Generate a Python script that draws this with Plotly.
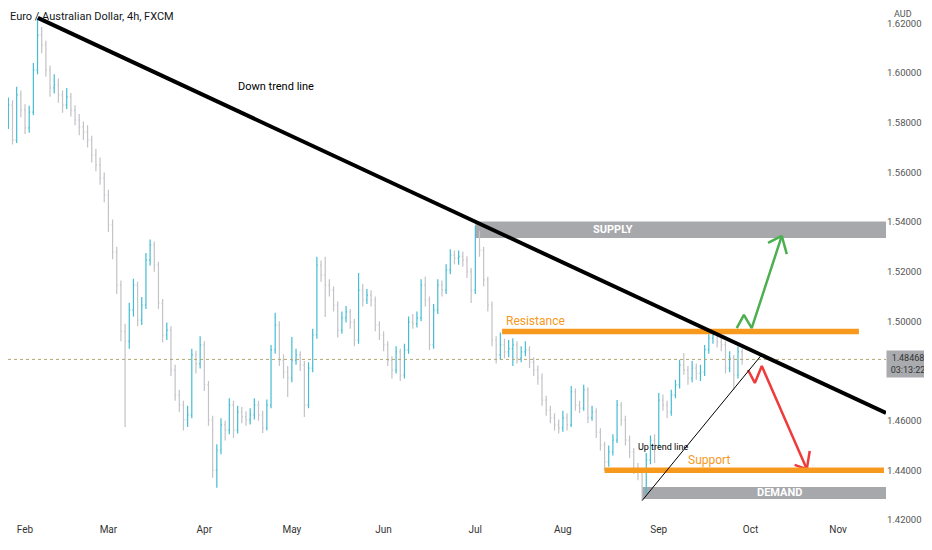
import pandas as pd
import plotly.graph_objects as go

# daily bars (EUR/AUD, FXCM)
start_day = "2022-01-24"

opens = [
    1.5800, 1.5831, 1.5791, 1.5871, 1.5730, 1.5912, 1.5851, 1.5779, 1.5843, 1.6012,
    1.6153, 1.6113, 1.6012, 1.5940, 1.5952, 1.5912, 1.5871, 1.5904, 1.5851, 1.5811,
    1.5783, 1.5763, 1.5730, 1.5670, 1.5630, 1.5577, 1.5509, 1.5388, 1.5279, 1.5146,
    1.4960, 1.4920, 1.5046, 1.5146, 1.5005, 1.5066, 1.5247, 1.5308, 1.5227, 1.5074,
    1.4945, 1.4965, 1.4804, 1.4703, 1.4663, 1.4603, 1.4623, 1.4865, 1.4830, 1.4905,
    1.4744, 1.4603, 1.4401, 1.4482, 1.4583, 1.4562, 1.4663, 1.4562, 1.4635, 1.4615,
    1.4603, 1.4623, 1.4663, 1.4623, 1.4571, 1.4663, 1.4885, 1.4985, 1.4844, 1.4796,
    1.4772, 1.4844, 1.4865, 1.4824, 1.4663, 1.4812, 1.4945, 1.5227, 1.5187, 1.5146,
    1.5126, 1.5066, 1.4965, 1.5014, 1.5038, 1.4997, 1.4925, 1.5126, 1.5086, 1.5106,
    1.5086, 1.4985, 1.4945, 1.4905, 1.4844, 1.4804, 1.4877, 1.4784, 1.4885, 1.4997,
    1.4990, 1.5014, 1.5146, 1.5086, 1.4905, 1.5046, 1.5146, 1.5126, 1.5207, 1.5267,
    1.5255, 1.5262, 1.5247, 1.5199, 1.5126, 1.5348, 1.5287, 1.5167, 1.5066, 1.4925,
    1.4865, 1.4905, 1.4877, 1.4890, 1.4905, 1.4852, 1.4877, 1.4885, 1.4836, 1.4804,
    1.4772, 1.4683, 1.4643, 1.4611, 1.4583, 1.4571, 1.4611, 1.4583, 1.4716, 1.4663,
    1.4651, 1.4724, 1.4611, 1.4635, 1.4554, 1.4502, 1.4434, 1.4474, 1.4522, 1.4663,
    1.4603, 1.4522, 1.4474, 1.4409, 1.4393, 1.4321, 1.4442, 1.4522, 1.4502, 1.4683,
    1.4663, 1.4635, 1.4703, 1.4744, 1.4824, 1.4804, 1.4772, 1.4812, 1.4790, 1.4796,
    1.4885, 1.4933, 1.4945, 1.4917, 1.4905, 1.4812, 1.4852, 1.4784, 1.4877,
]
highs = [
    1.5865, 1.5858, 1.5902, 1.5890, 1.5945, 1.5930, 1.5874, 1.5868, 1.6040, 1.6222,
    1.6185, 1.6130, 1.6030, 1.5995, 1.5978, 1.5930, 1.5940, 1.5920, 1.5870, 1.5835,
    1.5805, 1.5790, 1.5748, 1.5695, 1.5660, 1.5600, 1.5530, 1.5410, 1.5300, 1.5165,
    1.4990, 1.5075, 1.5172, 1.5160, 1.5098, 1.5275, 1.5330, 1.5322, 1.5240, 1.5090,
    1.4995, 1.4980, 1.4825, 1.4725, 1.4680, 1.4660, 1.4890, 1.4882, 1.4940, 1.4920,
    1.4760, 1.4620, 1.4505, 1.4610, 1.4600, 1.4690, 1.4680, 1.4660, 1.4655, 1.4638,
    1.4650, 1.4690, 1.4680, 1.4640, 1.4685, 1.4905, 1.5035, 1.5000, 1.4868, 1.4820,
    1.4937, 1.4890, 1.4880, 1.4840, 1.4835, 1.4970, 1.5260, 1.5245, 1.5260, 1.5170,
    1.5140, 1.5080, 1.5040, 1.5062, 1.5050, 1.5010, 1.5195, 1.5150, 1.5130, 1.5125,
    1.5100, 1.5000, 1.4960, 1.4920, 1.4860, 1.4900, 1.4890, 1.4910, 1.5020, 1.5030,
    1.5040, 1.5170, 1.5180, 1.5100, 1.5070, 1.5170, 1.5165, 1.5230, 1.5290, 1.5285,
    1.5285, 1.5280, 1.5262, 1.5215, 1.5385, 1.5365, 1.5300, 1.5180, 1.5080, 1.4940,
    1.4955, 1.4930, 1.4925, 1.4932, 1.4920, 1.4900, 1.4920, 1.4900, 1.4855, 1.4822,
    1.4790, 1.4700, 1.4660, 1.4630, 1.4605, 1.4640, 1.4630, 1.4740, 1.4730, 1.4680,
    1.4745, 1.4735, 1.4660, 1.4650, 1.4570, 1.4515, 1.4500, 1.4545, 1.4683, 1.4675,
    1.4620, 1.4540, 1.4490, 1.4430, 1.4410, 1.4470, 1.4540, 1.4545, 1.4712, 1.4705,
    1.4680, 1.4725, 1.4765, 1.4845, 1.4873, 1.4820, 1.4840, 1.4830, 1.4825, 1.4905,
    1.4955, 1.4968, 1.4960, 1.4940, 1.4920, 1.4880, 1.4865, 1.4900, 1.4890,
]
lows = [
    1.5772, 1.5762, 1.5775, 1.5712, 1.5718, 1.5822, 1.5755, 1.5760, 1.5830, 1.5995,
    1.6080, 1.5985, 1.5905, 1.5918, 1.5880, 1.5840, 1.5855, 1.5825, 1.5790, 1.5750,
    1.5730, 1.5700, 1.5640, 1.5605, 1.5550, 1.5480, 1.5360, 1.5250, 1.5110, 1.4920,
    1.4575, 1.4890, 1.5020, 1.4980, 1.4985, 1.5050, 1.5225, 1.5200, 1.5050, 1.4915,
    1.4925, 1.4780, 1.4680, 1.4635, 1.4560, 1.4575, 1.4610, 1.4790, 1.4810, 1.4720,
    1.4580, 1.4370, 1.4330, 1.4465, 1.4520, 1.4545, 1.4530, 1.4548, 1.4590, 1.4580,
    1.4585, 1.4605, 1.4600, 1.4550, 1.4560, 1.4650, 1.4870, 1.4820, 1.4770, 1.4695,
    1.4755, 1.4825, 1.4800, 1.4615, 1.4650, 1.4795, 1.4930, 1.5160, 1.5018, 1.5100,
    1.5040, 1.4935, 1.4950, 1.4995, 1.4970, 1.4900, 1.4910, 1.5060, 1.5070, 1.5060,
    1.4960, 1.4925, 1.4880, 1.4820, 1.4770, 1.4790, 1.4760, 1.4770, 1.4870, 1.4970,
    1.4975, 1.5000, 1.5060, 1.4885, 1.4890, 1.5030, 1.5100, 1.5110, 1.5190, 1.5230,
    1.5228, 1.5220, 1.5175, 1.5074, 1.5110, 1.5260, 1.5140, 1.5040, 1.4900, 1.4830,
    1.4845, 1.4850, 1.4855, 1.4820, 1.4830, 1.4835, 1.4860, 1.4812, 1.4780, 1.4745,
    1.4660, 1.4620, 1.4590, 1.4560, 1.4548, 1.4555, 1.4560, 1.4575, 1.4640, 1.4630,
    1.4640, 1.4590, 1.4600, 1.4530, 1.4480, 1.4398, 1.4415, 1.4460, 1.4510, 1.4580,
    1.4500, 1.4450, 1.4385, 1.4360, 1.4280, 1.4305, 1.4425, 1.4430, 1.4490, 1.4640,
    1.4610, 1.4620, 1.4690, 1.4730, 1.4785, 1.4745, 1.4755, 1.4765, 1.4760, 1.4780,
    1.4870, 1.4910, 1.4895, 1.4880, 1.4790, 1.4795, 1.4724, 1.4770, 1.4825,
]
closes = [
    1.5831, 1.5791, 1.5871, 1.5730, 1.5912, 1.5851, 1.5779, 1.5843, 1.6012, 1.6153,
    1.6113, 1.6012, 1.5940, 1.5952, 1.5912, 1.5871, 1.5904, 1.5851, 1.5811, 1.5783,
    1.5763, 1.5730, 1.5670, 1.5630, 1.5577, 1.5509, 1.5388, 1.5279, 1.5146, 1.4960,
    1.4920, 1.5046, 1.5146, 1.5005, 1.5066, 1.5247, 1.5308, 1.5227, 1.5074, 1.4945,
    1.4965, 1.4804, 1.4703, 1.4663, 1.4603, 1.4623, 1.4865, 1.4830, 1.4905, 1.4744,
    1.4603, 1.4401, 1.4482, 1.4583, 1.4562, 1.4663, 1.4562, 1.4635, 1.4615, 1.4603,
    1.4623, 1.4663, 1.4623, 1.4571, 1.4663, 1.4885, 1.4985, 1.4844, 1.4796, 1.4772,
    1.4844, 1.4865, 1.4824, 1.4663, 1.4812, 1.4945, 1.5227, 1.5187, 1.5146, 1.5126,
    1.5066, 1.4965, 1.5014, 1.5038, 1.4997, 1.4925, 1.5126, 1.5086, 1.5106, 1.5086,
    1.4985, 1.4945, 1.4905, 1.4844, 1.4804, 1.4877, 1.4784, 1.4885, 1.4997, 1.4990,
    1.5014, 1.5146, 1.5086, 1.4905, 1.5046, 1.5146, 1.5126, 1.5207, 1.5267, 1.5255,
    1.5262, 1.5247, 1.5199, 1.5126, 1.5348, 1.5287, 1.5167, 1.5066, 1.4925, 1.4865,
    1.4905, 1.4877, 1.4890, 1.4905, 1.4852, 1.4877, 1.4885, 1.4836, 1.4804, 1.4772,
    1.4683, 1.4643, 1.4611, 1.4583, 1.4571, 1.4611, 1.4583, 1.4716, 1.4663, 1.4651,
    1.4724, 1.4611, 1.4635, 1.4554, 1.4502, 1.4434, 1.4474, 1.4522, 1.4663, 1.4603,
    1.4522, 1.4474, 1.4409, 1.4393, 1.4321, 1.4442, 1.4522, 1.4502, 1.4683, 1.4663,
    1.4635, 1.4703, 1.4744, 1.4824, 1.4804, 1.4772, 1.4812, 1.4790, 1.4796, 1.4885,
    1.4933, 1.4945, 1.4917, 1.4905, 1.4812, 1.4852, 1.4784, 1.4877, 1.4847,
]

last_price = 1.48468

month_ticks = ["2022-02-01", "2022-03-01", "2022-04-01", "2022-05-02", "2022-06-01",
               "2022-07-01", "2022-08-01", "2022-09-01", "2022-10-03", "2022-11-01"]
month_labels = ["Feb", "Mar", "Apr", "May", "Jun", "Jul", "Aug", "Sep", "Oct", "Nov"]
# 1.48 is hidden behind the last-price box on the original
price_ticks = [1.42, 1.44, 1.46, 1.50, 1.52, 1.54, 1.56, 1.58, 1.60, 1.62]
price_labels = ["%.5f" % p for p in price_ticks]

# drawn levels / zones
supply_zone = (1.5336, 1.5402)
demand_zone = (1.4285, 1.4333)
resistance_band = (1.4948, 1.4970)
support_band = (1.4389, 1.4411)

# hand drawn arrows (time, price)
green_x = ["2022-09-27 17:00", "2022-09-29 10:00", "2022-10-03 07:00", "2022-10-12 12:00",
           "2022-10-07 05:00", None, "2022-10-12 12:00", "2022-10-13 17:00"]
green_y = [1.4973, 1.5026, 1.4973, 1.5344, 1.5316, None, 1.5344, 1.5271]
red_x = ["2022-09-30 10:00", "2022-10-04 01:00", "2022-10-05 17:00", "2022-10-20 12:00",
         "2022-10-17 14:00", None, "2022-10-20 12:00", "2022-10-21 05:00"]
red_y = [1.4804, 1.4752, 1.4820, 1.4405, 1.4422, None, 1.4405, 1.4478]

dates = pd.bdate_range(start_day, periods=len(closes))

# the page has an 8px body margin, so the plot area starts 8px in
x_start = "2022-01-25 22:00"
x_end = "2022-11-16 12:00"
y_lo, y_hi = 1.4192, 1.6262

FONT = "Roboto, sans-serif"
ORANGE = "#f7991c"
ZONE = "#a6a8ac"

fig = go.Figure()
fig.add_trace(go.Ohlc(
    x=dates, open=opens, high=highs, low=lows, close=closes,
    increasing_line_color="#45bcd2", decreasing_line_color="#c3c3c8",
    line_width=1.2, tickwidth=0.25, hoverinfo="skip", showlegend=False,
))
fig.add_trace(go.Scatter(x=green_x, y=green_y, mode="lines",
                         line=dict(color="#4caf50", width=2.5),
                         hoverinfo="skip", showlegend=False))
fig.add_trace(go.Scatter(x=red_x, y=red_y, mode="lines",
                         line=dict(color="#ee3b3b", width=2.5),
                         hoverinfo="skip", showlegend=False))

shapes = [
    # current price
    dict(type="line", xref="paper", x0=0, x1=1, y0=last_price, y1=last_price,
         line=dict(color="#b4a870", width=1, dash="dot")),
    dict(type="rect", x0="2022-07-01", x1=x_end, y0=supply_zone[0], y1=supply_zone[1],
         fillcolor=ZONE, line_width=0, layer="below"),
    dict(type="rect", x0="2022-08-26", x1=x_end, y0=demand_zone[0], y1=demand_zone[1],
         fillcolor=ZONE, line_width=0, layer="below"),
    dict(type="rect", x0="2022-07-11 10:00", x1="2022-11-08", y0=resistance_band[0],
         y1=resistance_band[1], fillcolor=ORANGE, line_width=0),
    dict(type="rect", x0="2022-08-15", x1="2022-11-16", y0=support_band[0],
         y1=support_band[1], fillcolor=ORANGE, line_width=0),
    # down trend line
    dict(type="line", x0="2022-02-04 02:00", y0=1.6222, x1=x_end, y1=1.4631,
         line=dict(color="black", width=4)),
    # up trend line
    dict(type="line", x0="2022-08-26", y0=1.4278, x1="2022-10-05 16:00", y1=1.4865,
         line=dict(color="black", width=1)),
]

def px(x):
    # page pixel -> paper fraction of the plot area (page x 8..886)
    return (x - 8) / 878.0

annotations = [
    dict(text="Euro / Australian Dollar, 4h, FXCM", xref="paper", x=0, xanchor="left",
         y=1.6229, font=dict(size=11, color="#131722")),
    dict(text="AUD", xref="paper", x=px(892), xanchor="left", y=1.6238,
         font=dict(size=9, color="#555")),
    dict(text="Down trend line", xref="paper", x=px(236), y=1.5944,
         font=dict(size=11, color="black")),
    dict(text="Resistance", xref="paper", x=px(535), y=1.5003,
         font=dict(size=12, color=ORANGE)),
    dict(text="Support", xref="paper", x=px(732), y=1.4440,
         font=dict(size=12, color=ORANGE)),
    dict(text="Up trend line", xref="paper", x=px(690), y=1.4494,
         font=dict(size=9, color="black")),
    dict(text="<b>SUPPLY</b>", xref="paper", x=px(635), y=sum(supply_zone) / 2,
         font=dict(size=11, color="white")),
    dict(text="<b>DEMAND</b>", xref="paper", x=px(804), y=sum(demand_zone) / 2,
         font=dict(size=11, color="white")),
    dict(text="%.5f<br>03:13:22" % last_price, xref="paper", x=1, xanchor="left",
         y=1.4886, yanchor="top", bgcolor="#a9abaf", borderpad=2, width=38,
         font=dict(size=9, color="#333")),
]
for a in annotations:
    a.setdefault("showarrow", False)
    a.setdefault("yref", "y")

fig.update_layout(
    width=924, height=542,
    margin=dict(l=0, r=46, t=0, b=28, pad=0),
    paper_bgcolor="white", plot_bgcolor="white",
    font=dict(family=FONT),
    shapes=shapes, annotations=annotations,
    hovermode=False,
    xaxis=dict(type="date", range=[x_start, x_end],
               rangebreaks=[dict(bounds=["sat", "mon"])],
               rangeslider=dict(visible=False),
               tickvals=month_ticks, ticktext=month_labels,
               tickfont=dict(size=10, color="#333"),
               showgrid=False, zeroline=False, showline=False, ticks=""),
    yaxis=dict(side="right", range=[y_lo, y_hi],
               tickvals=price_ticks, ticktext=price_labels,
               tickfont=dict(size=9.5, color="#555"), ticklabelstandoff=0,
               showgrid=False, zeroline=False, showline=False, ticks=""),
)

fig.write_html("out.html")
